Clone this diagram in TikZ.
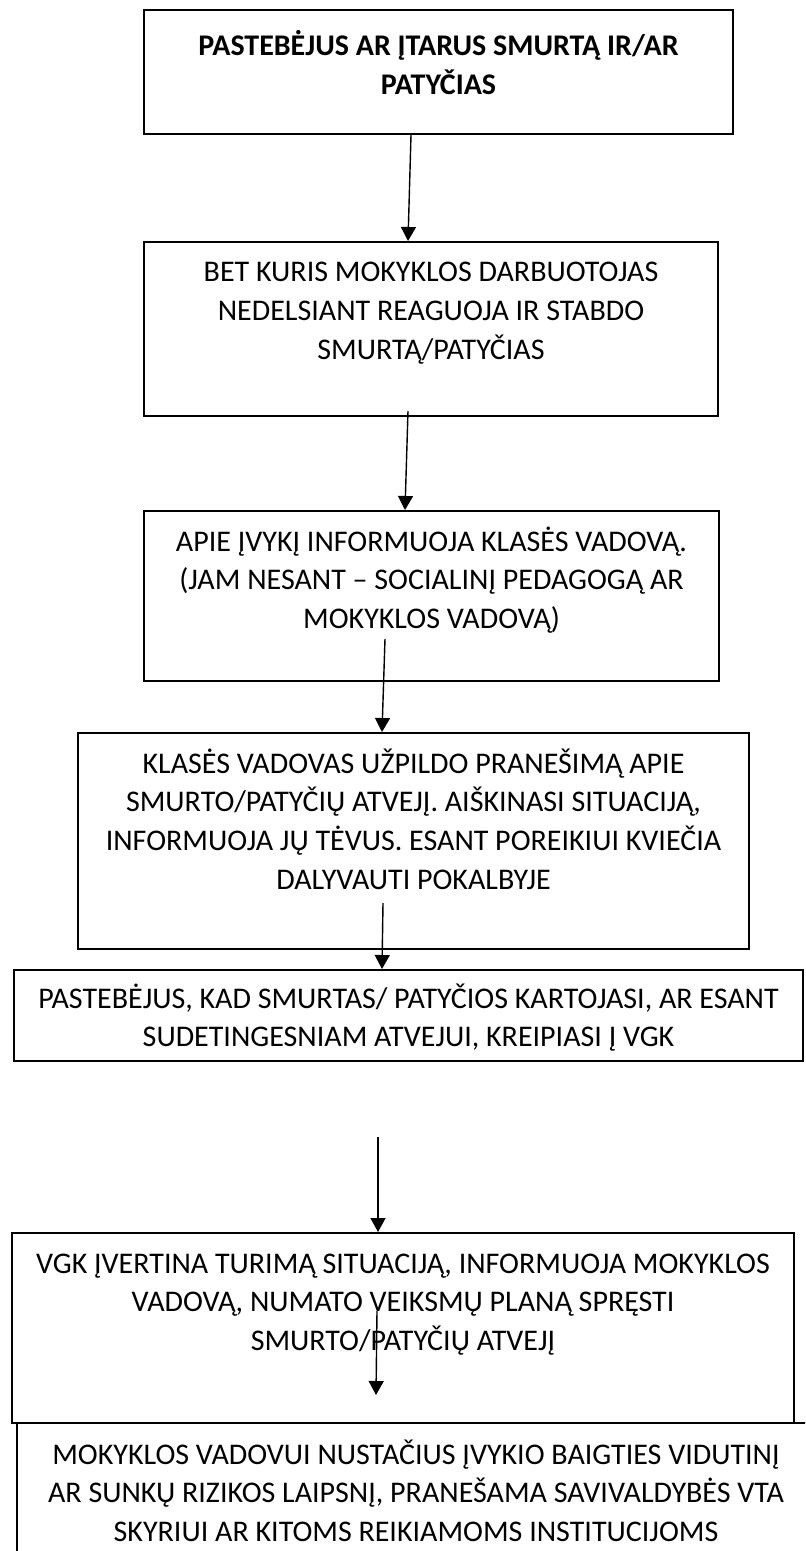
\documentclass[tikz,border=0pt]{standalone}
\usepackage{fontspec}
\setmainfont{Carlito}
\usetikzlibrary{arrows.meta}
\newcommand{\boxtext}[4][20pt]{\parbox[t][#2][t]{#3}{\centering\rule{0pt}{#1}#4}}

\begin{document}
\begin{tikzpicture}[x=0.5pt,y=-0.5pt]
\tikzstyle{every node}+=[inner sep=0pt]
\tikzstyle{flowbox}=[draw=black, line width=1pt, anchor=north west, font=\fontsize{15}{19.4}\selectfont]
\tikzstyle{flowarrow}=[black, line width=0.7pt, -{Triangle[width=7.5pt,length=7pt]}]
\clip (0,0) rectangle (805,1551);
\node [flowbox] (b1) at (143,9) {\boxtext[23pt]{62pt}{294.5pt}{\bfseries PASTEBĖJUS AR ĮTARUS SMURTĄ IR/AR\\PATYČIAS}};
\node [flowbox] (b2) at (143,241) {\boxtext{87pt}{287pt}{BET KURIS MOKYKLOS DARBUOTOJAS\\NEDELSIANT REAGUOJA IR STABDO\\SMURTĄ/PATYČIAS}};
\node [flowbox] (b3) at (143,510) {\boxtext{85pt}{287.5pt}{APIE ĮVYKĮ INFORMUOJA KLASĖS VADOVĄ.\\(JAM NESANT – SOCIALINĮ PEDAGOGĄ AR\\MOKYKLOS VADOVĄ)}};
\node [flowbox] (b4) at (77,732) {\boxtext{108pt}{335.5pt}{KLASĖS VADOVAS UŽPILDO PRANEŠIMĄ APIE\\SMURTO/PATYČIŲ ATVEJĮ. AIŠKINASI SITUACIJĄ,\\INFORMUOJA JŲ TĖVUS. ESANT POREIKIUI KVIEČIA\\DALYVAUTI POKALBYJE}};
\node [flowbox] (b5) at (13,969) {\boxtext[19pt]{45.5pt}{394.5pt}{PASTEBĖJUS, KAD SMURTAS/ PATYČIOS KARTOJASI, AR ESANT\\SUDETINGESNIAM ATVEJUI, KREIPIASI Į VGK}};
\node [flowbox] (b7) at (16,1422) {\boxtext[20.5pt]{100pt}{399pt}{MOKYKLOS VADOVUI NUSTAČIUS ĮVYKIO BAIGTIES VIDUTINĮ\\AR SUNKŲ RIZIKOS LAIPSNĮ, PRANEŠAMA SAVIVALDYBĖS VTA\\SKYRIUI AR KITOMS REIKIAMOMS INSTITUCIJOMS}};
\node [flowbox] (b6) at (11,1232) {\boxtext{95pt}{391pt}{VGK ĮVERTINA TURIMĄ SITUACIJĄ, INFORMUOJA MOKYKLOS\\VADOVĄ, NUMATO VEIKSMŲ PLANĄ SPRĘSTI\\SMURTO/PATYČIŲ ATVEJĮ}};
% arrows
\draw [flowarrow] ([xshift=-13.75pt]b1.south) -- ([xshift=-11.5pt]b2.north);
\draw [flowarrow] ([xshift=-11.5pt,yshift=3pt]b2.south) -- ([xshift=-13.25pt]b3.north);
\draw [flowarrow] ([xshift=-23.25pt,yshift=21.5pt]b3.south) -- ([xshift=-15.75pt]b4.north);
\draw [flowarrow] ([xshift=-15.25pt,yshift=23.5pt]b4.south) -- ([xshift=-13.25pt]b5.north);
\coordinate (s5) at (378,1137);
\draw [flowarrow] (s5) -- (s5 |- b6.north);
\coordinate (s6) at (377,1311);
\coordinate (e6) at (376,1395);
\draw [flowarrow] (s6) -- (e6);
\end{tikzpicture}
\end{document}
